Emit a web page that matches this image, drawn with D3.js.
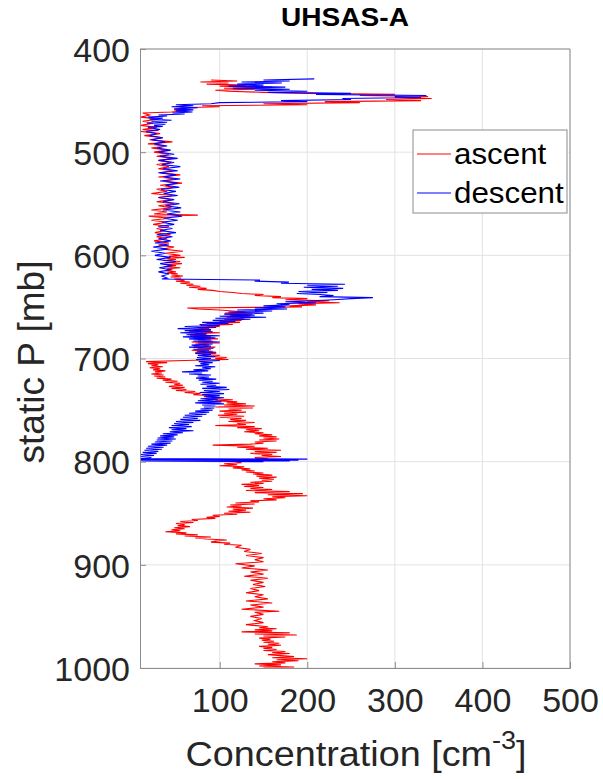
<!DOCTYPE html>
<html>
<head>
<meta charset="utf-8">
<script src="https://cdn.jsdelivr.net/npm/d3@7"></script>
<style>
  body { margin: 0; background: #fff; }
  text { font-family: "Liberation Sans", Arial, Helvetica, sans-serif; }
</style>
</head>
<body>
<div id="chart"></div>
<script>
// Tick labels
var xTicks = [100, 200, 300, 400, 500];
var yTicks = [400, 500, 600, 700, 800, 900, 1000];
var seriesNames = ['ascent', 'descent'];

// Ascent profile, [pressure mb, concentration cm-3]
var ascent = [
  [1000,150],[999,185],[998,145],[997,170],[996,140],[995,175],[994,160],[993,190],[992,165],[991,200],
  [990,160],[989,185],[988,170],[987,155],[986,180],[985,160],[984,175],[983,150],[982,165],[981,150],
  [980,160],[979,145],[978,170],[977,155],[976,168],[975,150],[974,162],[973,148],[972,158],[971,145],
  [970,175],[969,150],[968,188],[967,140],[966,180],[965,125],[964,160],[963,140],[962,165],[961,145],
  [960,155],[958,130],[956,150],[954,140],[952,148],[950,135],[948,150],[946,140],[945,168],[943,125],
  [941,150],[939,135],[937,160],[935,130],[933,155],[931,140],[929,150],[927,130],[925,145],[923,135],
  [921,152],[919,138],[917,150],[915,135],[913,155],[911,128],[909,150],[907,135],[905,155],[903,125],
  [901,140],[899,118],[897,150],[895,140],[893,150],[891,130],[889,148],[887,128],[885,135],[883,118],
  [881,125],[880,105],[879,112],[878,90],[877,95],[876,108],[875,85],[874,72],[873,90],[872,60],
  [871,75],[870,50],[869,62],[868,38],[867,55],[866,45],[865,60],[864,48],[863,66],[862,52],
  [861,60],[860,50],[859,70],[858,55],[857,75],[856,68],[855,95],[854,85],[853,100],[852,92],
  [851,120],[850,105],[849,135],[848,110],[847,130],[846,115],[845,138],[844,108],[843,125],[842,112],
  [841,140],[840,118],[839,145],[838,135],[837,165],[836,150],[835,175],[834,160],[833,200],[832,155],
  [831,195],[830,140],[829,180],[828,130],[827,160],[826,135],[825,150],[824,128],[823,145],[822,125],
  [821,150],[820,135],[819,160],[818,148],[817,162],[816,145],[815,165],[814,142],[813,160],[812,138],
  [811,150],[810,130],[809,140],[808,125],[807,135],[806,115],[805,128],[804,100],[803,120],[802,105],
  [801,125],[800,118],[799,140],[798,125],[797,155],[796,140],[795,170],[794,148],[793,160],[792,135],
  [791,165],[790,140],[789,170],[788,130],[787,155],[786,120],[785,140],[784,92],[783,135],[782,150],
  [781,140],[780,165],[779,145],[778,168],[777,150],[776,165],[775,145],[774,160],[773,140],[772,150],
  [771,128],[770,145],[769,130],[768,148],[767,120],[766,140],[765,95],[764,130],[763,120],[762,140],
  [761,110],[760,130],[759,112],[758,125],[757,100],[756,128],[755,98],[754,120],[753,105],[752,130],
  [751,100],[750,125],[749,110],[748,138],[747,95],[746,140],[745,105],[744,130],[743,108],[742,120],
  [741,95],[740,115],[739,90],[738,100],[737,82],[736,95],[735,70],[734,78],[733,60],[732,72],
  [731,50],[730,62],[729,45],[728,60],[727,42],[726,58],[725,48],[724,55],[723,38],[722,52],
  [721,35],[720,45],[719,28],[718,38],[717,25],[716,36],[715,22],[714,34],[713,26],[712,38],
  [711,24],[710,32],[709,20],[708,35],[707,22],[706,30],[705,18],[704,40],[703,16],[702,60],
  [701,110],[700,95],[699,108],[698,85],[697,100],[696,80],[695,96],[694,72],[693,92],[692,68],
  [691,90],[690,75],[689,95],[688,70],[687,88],[686,72],[685,100],[684,68],[683,92],[682,75],
  [681,98],[680,70],[679,90],[678,66],[677,85],[676,72],[675,100],[674,65],[673,90],[672,70],
  [671,88],[670,74],[669,100],[668,78],[667,115],[666,85],[665,123],[664,100],[663,125],[662,105],
  [661,128],[660,108],[659,135],[658,112],[657,137],[656,106],[655,130],[654,115],[653,100],[652,75],
  [651,63],[650,194],[649,180],[648,210],[647,190],[646,237],[645,200],[644,225],[643,175],[642,200],
  [641,160],[640,170],[639,140],[638,150],[637,125],[636,115],[635,100],[634,92],[633,75],[632,85],
  [631,65],[630,78],[629,62],[628,70],[627,55],[626,66],[625,50],[624,60],[623,48],[622,56],
  [621,44],[620,58],[619,45],[618,52],[617,40],[616,50],[615,38],[614,46],[613,40],[612,55],
  [611,36],[610,50],[609,40],[608,57],[607,38],[606,55],[605,35],[604,50],[603,40],[602,60],
  [601,42],[600,55],[598,38],[596,58],[594,35],[592,48],[590,30],[588,42],[586,25],[584,40],
  [582,28],[580,44],[578,26],[576,38],[574,28],[572,42],[570,24],[568,40],[566,22],[564,42],
  [562,19],[561,75],[560,25],[558,40],[556,22],[554,45],[552,30],[550,48],[548,28],[546,44],
  [544,30],[542,46],[540,22],[538,40],[536,28],[534,48],[532,32],[530,57],[528,35],[526,50],
  [524,30],[522,55],[520,32],[518,46],[516,30],[514,42],[512,28],[510,45],[508,30],[506,46],
  [504,28],[502,42],[500,25],[498,40],[496,22],[494,38],[492,18],[490,46],[488,20],[486,35],
  [484,14],[482,32],[480,10],[479,30],[478,12],[476,28],[474,10],[472,24],[470,12],[468,30],
  [466,10],[464,20],[462,12],[461,45],[460,60],[459,48],[458,62],[457,55],[456,100],[455,80],
  [454,200],[453,150],[452,260],[451,220],[450,330],[449,290],[448,342],[447,300],[446,338],[445,260],
  [444,300],[443,200],[442,150],[441,110],[440,95],[439,140],[438,105],[437,160],[436,100],[435,130],
  [434,85],[433,110],[432,78],[431,120],[430,90]
];

// Descent profile, [pressure mb, concentration cm-3]
var descent = [
  [429,208],[430,150],[431,180],[432,125],[433,171],[434,120],[435,150],[436,110],[437,175],[438,115],
  [439,180],[440,140],[441,200],[442,155],[443,250],[444,210],[445,336],[446,300],[447,330],[448,240],
  [449,250],[450,170],[451,200],[452,100],[453,90],[454,50],[455,70],[456,45],[457,75],[458,48],
  [459,70],[460,50],[461,69],[462,46],[463,60],[464,30],[465,40],[466,18],[467,35],[468,20],
  [469,45],[470,22],[471,40],[472,17],[473,38],[474,25],[475,35],[476,18],[478,32],[480,16],
  [482,28],[484,20],[486,35],[488,22],[490,38],[492,25],[494,40],[496,28],[498,44],[500,30],
  [502,48],[504,32],[506,52],[508,30],[510,48],[512,34],[514,55],[516,35],[518,52],[520,30],
  [522,50],[524,36],[526,55],[528,32],[530,52],[532,38],[534,54],[536,33],[538,50],[540,36],
  [542,52],[544,30],[546,48],[548,35],[550,54],[552,38],[554,56],[556,35],[558,55],[560,40],
  [562,57],[564,36],[566,52],[568,34],[570,48],[572,30],[574,46],[576,32],[578,50],[580,28],
  [582,46],[584,30],[586,44],[588,26],[590,42],[592,24],[594,40],[596,22],[598,38],[600,26],
  [602,44],[604,28],[606,50],[608,32],[610,46],[612,31],[614,44],[616,30],[618,42],[620,34],
  [622,40],[623,34],[624,146],[625,140],[626,179],[627,170],[628,243],[629,200],[630,235],[631,196],
  [632,241],[633,205],[634,235],[635,190],[636,223],[637,188],[638,215],[639,230],[640,214],[641,275],
  [642,250],[643,230],[644,205],[645,175],[646,210],[647,165],[648,180],[649,150],[650,175],[651,140],
  [652,177],[653,120],[654,160],[655,110],[656,150],[657,105],[658,140],[659,100],[660,153],[661,95],
  [662,135],[663,92],[664,118],[665,80],[666,110],[667,77],[668,100],[669,60],[670,96],[671,52],
  [672,90],[673,60],[674,92],[675,55],[676,85],[677,62],[678,100],[679,58],[680,95],[681,65],
  [682,90],[683,70],[684,100],[685,75],[686,92],[687,68],[688,90],[689,65],[690,93],[691,70],
  [692,88],[693,74],[694,96],[695,72],[696,90],[697,75],[698,95],[699,74],[700,90],[701,73],
  [702,100],[703,76],[704,92],[705,78],[706,88],[707,72],[708,95],[709,80],[710,90],[711,70],
  [712,87],[713,57],[714,80],[715,65],[716,90],[717,75],[718,88],[719,73],[720,96],[721,76],
  [722,92],[723,80],[724,100],[725,78],[726,96],[727,85],[728,108],[729,80],[730,111],[731,82],
  [732,100],[733,77],[734,105],[735,80],[736,100],[737,84],[738,105],[739,78],[740,98],[741,75],
  [742,102],[743,72],[744,105],[745,80],[746,95],[747,82],[748,94],[749,78],[750,92],[751,72],
  [752,88],[753,65],[754,85],[755,60],[756,80],[757,58],[758,75],[759,55],[760,78],[761,50],
  [762,70],[763,48],[764,65],[765,45],[766,68],[767,42],[768,62],[769,45],[770,70],[771,43],
  [772,58],[773,35],[774,52],[775,32],[776,48],[777,29],[778,50],[779,28],[780,46],[781,26],
  [782,44],[783,22],[784,40],[785,18],[786,36],[787,16],[788,34],[789,14],[790,30],[791,12],
  [792,28],[793,10],[794,25],[795,9],[796,22],[797,10],[797.5,200],[798,9],[798.5,190],[799,10],
  [799.3,180],[799.6,12],[800,150]
];

var width = 603, height = 779;
var margin = { top: 49, right: 33, bottom: 111, left: 140 };
var plotW = width - margin.left - margin.right;
var plotH = height - margin.top - margin.bottom;
var axisColor = '#8c8c8c';
var stretch = 1.08; // the reference text is a little wider than it is tall

var svg = d3.select('#chart')
    .append('svg')
    .attr('width', width)
    .attr('height', height);

var x = d3.scaleLinear().domain([9, 500]).range([0, plotW]);
var y = d3.scaleLinear().domain([400, 1000]).range([0, plotH]);

var g = svg.append('g')
    .attr('transform', 'translate(' + margin.left + ',' + margin.top + ')');

// Grid lines
g.append('g')
    .selectAll('line')
    .data(xTicks)
    .enter()
    .append('line')
    .attr('x1', d => x(d)).attr('x2', d => x(d))
    .attr('y1', 0).attr('y2', plotH)
    .style('stroke', '#e3e3e3')
    .style('stroke-width', '1px');

g.append('g')
    .selectAll('line')
    .data(yTicks)
    .enter()
    .append('line')
    .attr('x1', 0).attr('x2', plotW)
    .attr('y1', d => y(d)).attr('y2', d => y(d))
    .style('stroke', '#e3e3e3')
    .style('stroke-width', '1px');

// Clip the profiles to the axes box
svg.append('defs').append('clipPath')
    .attr('id', 'plotClip')
    .append('rect')
    .attr('width', plotW)
    .attr('height', plotH);

var line = d3.line()
    .x(d => x(d[1]))
    .y(d => y(d[0]));

var plotArea = g.append('g').attr('clip-path', 'url(#plotClip)');

plotArea.append('path')
    .datum(ascent)
    .attr('d', line)
    .style('fill', 'none')
    .style('stroke', '#ff0000')
    .style('stroke-width', '1.1px');

plotArea.append('path')
    .datum(descent)
    .attr('d', line)
    .style('fill', 'none')
    .style('stroke', '#0000ff')
    .style('stroke-width', '1.1px');

// Axes: ticks pointing inward, like MATLAB
var xAxis = g.append('g')
    .attr('transform', 'translate(0,' + plotH + ')')
    .call(d3.axisBottom(x).tickValues(xTicks).tickFormat(d3.format('d')).tickSize(-6).tickPadding(20));

var yAxis = g.append('g')
    .call(d3.axisLeft(y).tickValues(yTicks).tickFormat(d3.format('d')).tickSize(-6).tickPadding(10));

[xAxis, yAxis].forEach(a => {
    a.select('.domain').style('stroke', axisColor);
    a.selectAll('.tick line').style('stroke', axisColor);
    a.selectAll('.tick text')
        .style('font-size', '34px')
        .style('fill', '#262626');
});
xAxis.selectAll('.tick text').attr('dy', '0.71em');
yAxis.selectAll('.tick text').attr('dy', '0.36em');

// Top and right edges of the box
g.append('line')
    .attr('x1', 0).attr('x2', plotW).attr('y1', 0).attr('y2', 0)
    .style('stroke', axisColor);
g.append('line')
    .attr('x1', plotW).attr('x2', plotW).attr('y1', 0).attr('y2', plotH)
    .style('stroke', axisColor);

// Title
svg.append('text')
    .attr('transform', 'translate(345,26) scale(' + stretch + ',1)')
    .attr('text-anchor', 'middle')
    .style('font-size', '26px')
    .style('font-weight', 'bold')
    .style('fill', '#000')
    .text('UHSAS-A');

// Axis labels
var xLabel = svg.append('text')
    .attr('transform', 'translate(356,766) scale(' + stretch + ',1)')
    .attr('text-anchor', 'middle')
    .style('font-size', '35px')
    .style('fill', '#262626');
xLabel.append('tspan').text('Concentration [cm');
xLabel.append('tspan').attr('dy', -17).style('font-size', '25px').text('-3');
xLabel.append('tspan').attr('dy', 17).text(']');

svg.append('text')
    .attr('transform', 'translate(44,362) rotate(-90)')
    .attr('text-anchor', 'middle')
    .style('font-size', '37px')
    .style('fill', '#262626')
    .text('static P [mb]');

// Legend
var legend = svg.append('g').attr('transform', 'translate(413,130)');
legend.append('rect')
    .attr('width', 154)
    .attr('height', 83)
    .style('fill', '#fff')
    .style('stroke', axisColor);

var legendColors = ['#ff0000', '#0000ff'];
seriesNames.forEach((name, i) => {
    var ly = 24 + i * 39;
    legend.append('line')
        .attr('x1', 4).attr('x2', 38)
        .attr('y1', ly).attr('y2', ly)
        .style('stroke', legendColors[i])
        .style('stroke-width', '1px');
    legend.append('text')
        .attr('transform', 'translate(41,' + ly + ') scale(' + stretch + ',1)')
        .attr('dy', '0.35em')
        .style('font-size', '29px')
        .style('fill', '#000')
        .text(name);
});
</script>
</body>
</html>
